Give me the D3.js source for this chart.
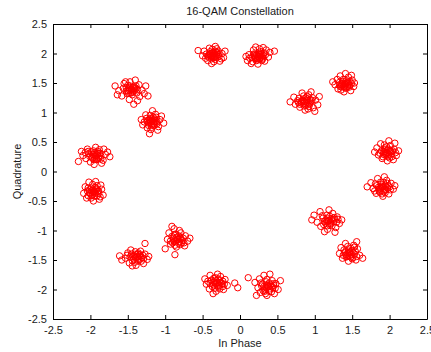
<!DOCTYPE html>
<html>
    <head>
        <meta charset="utf-8">
        <title>16-QAM Constellation</title>
        <script src="https://d3js.org/d3.v7.min.js"></script>
        <style>
            body { margin: 0; background: #fff; }
            text { font-family: "Liberation Sans", Arial, sans-serif; }
        </style>
    </head>
    <body>
        <script>
            // tick values for both axes
            let xTicks = [-2.5, -2, -1.5, -1, -0.5, 0, 0.5, 1, 1.5, 2, 2.5]
            let yTicks = [-2.5, -2, -1.5, -1, -0.5, 0, 0.5, 1, 1.5, 2, 2.5]

            // received symbols [in phase, quadrature]
            let symbols = [
                // top left
                [-0.36,1.97],[-0.30,2.01],[-0.42,1.94],[-0.33,1.90],[-0.28,1.95],[-0.40,2.03],[-0.45,1.99],[-0.37,2.07],[-0.31,2.08],[-0.24,2.00],[-0.22,1.93],[-0.35,1.86],[-0.43,1.88],[-0.48,2.04],[-0.56,2.05],[-0.50,1.96],[-0.27,1.87],[-0.39,1.99],[-0.34,1.94],[-0.29,2.04],[-0.41,2.09],[-0.20,2.04],[-0.38,1.83],[-0.46,1.92],[-0.33,2.12],[-0.25,1.91],[-0.36,2.02],[-0.32,1.97],
                [-0.37,1.96],[-0.34,2.00],[-0.39,1.95],[-0.32,1.93],[-0.35,1.99],[-0.38,1.91],[-0.31,2.01],[-0.41,1.97],[-0.36,1.93],[-0.33,2.04],[-0.40,2.00],[-0.29,1.98],[-0.37,2.01],[-0.43,1.96],
                // top right
                [0.25,1.95],[0.20,1.99],[0.30,1.92],[0.22,1.88],[0.28,2.03],[0.16,1.93],[0.34,1.98],[0.26,2.08],[0.18,2.06],[0.12,1.98],[0.10,1.88],[0.15,1.83],[0.24,1.82],[0.33,1.87],[0.38,1.94],[0.46,2.04],[0.40,2.02],[0.31,2.10],[0.21,2.11],[0.27,1.97],[0.23,1.91],[0.19,1.96],[0.29,1.88],[0.13,1.92],[0.35,2.06],[0.08,1.95],[0.26,2.00],[0.17,1.86],
                [0.24,1.94],[0.27,1.92],[0.22,1.97],[0.29,1.95],[0.25,1.99],[0.20,1.92],[0.31,1.96],[0.23,1.89],[0.28,1.99],[0.18,1.99],[0.26,1.91],[0.32,2.01],[0.21,1.94],[0.30,1.90],
                // outer upper left
                [-1.46,1.39],[-1.41,1.43],[-1.52,1.36],[-1.38,1.33],[-1.50,1.46],[-1.44,1.30],[-1.56,1.41],[-1.35,1.47],[-1.47,1.52],[-1.40,1.55],[-1.62,1.37],[-1.67,1.45],[-1.64,1.30],[-1.58,1.28],[-1.31,1.38],[-1.28,1.32],[-1.23,1.28],[-1.26,1.45],[-1.48,1.22],[-1.37,1.20],[-1.42,1.14],[-1.53,1.52],[-1.45,1.40],[-1.49,1.33],[-1.43,1.36],[-1.34,1.27],[-1.55,1.49],[-1.39,1.41],
                [-1.45,1.38],[-1.48,1.41],[-1.43,1.43],[-1.50,1.37],[-1.41,1.37],[-1.47,1.45],[-1.44,1.34],[-1.52,1.42],[-1.39,1.45],[-1.46,1.33],[-1.42,1.40],[-1.49,1.39],[-1.37,1.39],[-1.51,1.32],
                // inner upper left
                [-1.18,0.85],[-1.14,0.89],[-1.22,0.82],[-1.16,0.78],[-1.25,0.90],[-1.11,0.81],[-1.20,0.95],[-1.13,0.97],[-1.28,0.84],[-1.07,0.88],[-1.09,0.76],[-1.24,0.74],[-1.19,0.71],[-1.30,0.79],[-1.05,0.94],[-1.17,1.03],[-1.26,0.96],[-1.10,0.70],[-1.21,0.64],[-1.15,0.84],[-1.23,0.87],[-1.12,0.92],[-1.18,0.79],[-1.02,0.82],[-1.32,0.88],
                [-1.17,0.86],[-1.20,0.83],[-1.15,0.81],[-1.21,0.88],[-1.13,0.86],[-1.19,0.90],[-1.16,0.92],[-1.22,0.78],[-1.14,0.79],[-1.24,0.84],[-1.11,0.84],[-1.18,0.75],[-1.20,0.86],[-1.16,0.88],
                // inner upper right
                [0.86,1.19],[0.90,1.23],[0.82,1.16],[0.88,1.12],[0.94,1.18],[0.79,1.24],[0.85,1.28],[0.92,1.30],[0.97,1.25],[1.01,1.21],[1.04,1.13],[0.98,1.08],[0.87,1.04],[0.80,1.09],[0.74,1.14],[0.67,1.18],[0.72,1.26],[0.83,1.33],[0.95,1.35],[1.06,1.27],[0.89,1.17],[0.84,1.21],[0.93,1.14],[0.77,1.20],[1.00,1.02],[0.91,1.06],
                [0.87,1.18],[0.84,1.20],[0.89,1.21],[0.85,1.15],[0.91,1.16],[0.82,1.19],[0.88,1.25],[0.94,1.22],[0.80,1.14],[0.86,1.11],[0.92,1.10],[0.78,1.17],[0.90,1.27],[0.96,1.20],
                // outer upper right
                [1.40,1.48],[1.44,1.52],[1.36,1.45],[1.42,1.41],[1.47,1.46],[1.33,1.51],[1.38,1.56],[1.45,1.60],[1.50,1.55],[1.52,1.44],[1.48,1.37],[1.39,1.35],[1.31,1.40],[1.27,1.47],[1.24,1.52],[1.34,1.62],[1.41,1.66],[1.49,1.63],[1.42,1.49],[1.37,1.50],[1.46,1.43],[1.35,1.38],[1.53,1.50],[1.30,1.56],
                [1.41,1.47],[1.38,1.49],[1.43,1.50],[1.39,1.44],[1.45,1.48],[1.36,1.48],[1.42,1.54],[1.47,1.52],[1.34,1.44],[1.40,1.42],[1.44,1.44],[1.37,1.53],[1.49,1.49],[1.33,1.47],
                // left upper
                [-1.94,0.27],[-1.90,0.31],[-1.98,0.24],[-1.92,0.20],[-2.02,0.30],[-1.86,0.26],[-1.96,0.35],[-1.88,0.37],[-2.06,0.22],[-1.83,0.19],[-1.80,0.29],[-1.77,0.33],[-1.74,0.25],[-2.00,0.16],[-2.10,0.27],[-2.16,0.17],[-2.12,0.34],[-1.93,0.41],[-2.04,0.38],[-1.85,0.14],[-1.95,0.12],[-1.91,0.28],[-1.97,0.29],[-1.89,0.22],[-2.07,0.32],[-1.82,0.38],
                [-1.93,0.26],[-1.96,0.28],[-1.91,0.30],[-1.97,0.22],[-1.89,0.25],[-1.99,0.33],[-1.94,0.32],[-1.87,0.31],[-2.01,0.26],[-1.92,0.23],[-1.95,0.20],[-1.86,0.21],[-2.03,0.34],[-1.90,0.34],
                // left lower
                [-1.96,-0.35],[-1.92,-0.31],[-2.00,-0.38],[-1.94,-0.42],[-1.99,-0.28],[-1.89,-0.37],[-2.04,-0.33],[-1.97,-0.22],[-1.91,-0.24],[-1.85,-0.30],[-1.83,-0.40],[-1.88,-0.47],[-1.96,-0.50],[-2.05,-0.45],[-2.09,-0.37],[-2.07,-0.26],[-2.02,-0.18],[-1.93,-0.17],[-1.95,-0.36],[-1.98,-0.41],[-1.90,-0.33],[-2.01,-0.31],[-1.86,-0.23],
                [-1.95,-0.34],[-1.93,-0.37],[-1.98,-0.32],[-1.97,-0.39],[-1.92,-0.29],[-2.01,-0.36],[-1.94,-0.27],[-1.89,-0.33],[-2.03,-0.41],[-1.91,-0.41],[-1.99,-0.45],[-1.87,-0.43],[-2.03,-0.28],[-1.96,-0.31],
                // right upper
                [1.96,0.32],[2.00,0.36],[1.92,0.29],[1.98,0.25],[2.03,0.30],[1.89,0.35],[1.94,0.40],[2.01,0.44],[2.06,0.38],[2.09,0.27],[2.05,0.20],[1.97,0.18],[1.90,0.22],[1.85,0.28],[1.80,0.33],[1.83,0.40],[1.88,0.47],[1.99,0.52],[2.07,0.48],[2.12,0.35],[1.95,0.30],[2.02,0.34],[1.93,0.37],[2.00,0.23],
                [1.97,0.31],[1.94,0.33],[1.99,0.29],[1.95,0.27],[2.01,0.33],[1.92,0.34],[1.98,0.38],[2.04,0.35],[1.91,0.25],[1.96,0.42],[2.03,0.25],[1.87,0.31],[2.08,0.32],[1.93,0.45],
                // right lower
                [1.90,-0.27],[1.94,-0.23],[1.86,-0.30],[1.92,-0.34],[1.97,-0.28],[1.83,-0.24],[1.88,-0.18],[1.96,-0.15],[2.02,-0.20],[2.05,-0.30],[1.99,-0.38],[1.91,-0.42],[1.82,-0.37],[1.78,-0.29],[1.70,-0.26],[1.75,-0.19],[1.84,-0.12],[1.93,-0.09],[2.07,-0.24],[1.89,-0.25],[1.95,-0.31],[1.87,-0.35],[2.00,-0.26],[1.80,-0.33],
                [1.91,-0.26],[1.88,-0.28],[1.93,-0.30],[1.89,-0.22],[1.95,-0.26],[1.85,-0.27],[1.92,-0.19],[1.98,-0.24],[1.86,-0.33],[1.94,-0.36],[2.01,-0.31],[1.81,-0.21],[1.97,-0.20],[1.90,-0.38],
                // inner lower right
                [1.18,-0.84],[1.22,-0.80],[1.14,-0.87],[1.20,-0.91],[1.25,-0.85],[1.11,-0.79],[1.16,-0.74],[1.24,-0.71],[1.30,-0.77],[1.33,-0.88],[1.28,-0.95],[1.17,-0.98],[1.08,-0.93],[1.03,-0.86],[0.96,-0.82],[0.99,-0.74],[1.07,-0.68],[1.19,-0.65],[1.27,-1.03],[1.13,-1.02],[1.36,-0.82],[1.21,-0.86],[1.15,-0.82],[1.26,-0.78],
                [1.19,-0.83],[1.16,-0.85],[1.21,-0.88],[1.17,-0.79],[1.23,-0.82],[1.13,-0.84],[1.20,-0.76],[1.26,-0.81],[1.12,-0.90],[1.23,-0.92],[1.29,-0.86],[1.10,-0.75],[1.17,-0.92],[1.31,-0.81],
                // outer lower right
                [1.46,-1.38],[1.50,-1.34],[1.42,-1.41],[1.48,-1.45],[1.53,-1.40],[1.39,-1.33],[1.44,-1.27],[1.52,-1.25],[1.57,-1.31],[1.60,-1.42],[1.55,-1.50],[1.45,-1.52],[1.37,-1.47],[1.33,-1.39],[1.35,-1.29],[1.41,-1.22],[1.56,-1.19],[1.64,-1.47],[1.47,-1.36],[1.43,-1.44],[1.51,-1.46],[1.40,-1.38],
                [1.47,-1.37],[1.44,-1.39],[1.49,-1.41],[1.45,-1.33],[1.51,-1.37],[1.41,-1.36],[1.48,-1.30],[1.54,-1.35],[1.42,-1.45],[1.50,-1.48],[1.56,-1.44],[1.38,-1.42],[1.53,-1.28],[1.46,-1.43],
                // outer lower left
                [-1.38,-1.45],[-1.34,-1.41],[-1.42,-1.48],[-1.36,-1.52],[-1.31,-1.46],[-1.45,-1.40],[-1.40,-1.36],[-1.33,-1.35],[-1.27,-1.40],[-1.24,-1.49],[-1.29,-1.56],[-1.39,-1.59],[-1.48,-1.55],[-1.53,-1.47],[-1.58,-1.50],[-1.61,-1.43],[-1.50,-1.38],[-1.46,-1.33],[-1.27,-1.22],[-1.35,-1.47],[-1.41,-1.43],[-1.37,-1.40],[-1.22,-1.44],[-1.44,-1.60],
                [-1.37,-1.44],[-1.40,-1.46],[-1.35,-1.49],[-1.39,-1.41],[-1.33,-1.43],[-1.43,-1.44],[-1.36,-1.38],[-1.30,-1.42],[-1.44,-1.51],[-1.32,-1.52],[-1.41,-1.54],[-1.47,-1.45],[-1.29,-1.48],[-1.51,-1.42],
                // inner lower left
                [-0.84,-1.16],[-0.80,-1.12],[-0.88,-1.19],[-0.82,-1.22],[-0.77,-1.17],[-0.91,-1.10],[-0.86,-1.06],[-0.79,-1.04],[-0.73,-1.09],[-0.70,-1.18],[-0.74,-1.26],[-0.85,-1.28],[-0.93,-1.23],[-0.97,-1.15],[-0.95,-1.04],[-0.91,-0.93],[-0.88,-0.97],[-1.00,-1.31],[-0.87,-1.41],[-0.67,-1.13],[-0.83,-1.14],[-0.89,-1.13],[-0.78,-1.21],[-0.81,-1.00],
                [-0.83,-1.15],[-0.86,-1.17],[-0.81,-1.19],[-0.85,-1.12],[-0.79,-1.14],[-0.89,-1.16],[-0.82,-1.09],[-0.76,-1.13],[-0.90,-1.21],[-0.80,-1.24],[-0.87,-1.25],[-0.93,-1.18],[-0.75,-1.21],[-0.88,-1.08],
                // bottom left
                [-0.31,-1.89],[-0.27,-1.85],[-0.35,-1.92],[-0.29,-1.96],[-0.24,-1.90],[-0.38,-1.84],[-0.33,-1.80],[-0.26,-1.78],[-0.20,-1.83],[-0.17,-1.93],[-0.22,-2.00],[-0.32,-2.03],[-0.41,-1.99],[-0.45,-1.91],[-0.47,-1.82],[-0.40,-1.76],[-0.30,-1.74],[-0.07,-1.89],[-0.03,-1.97],[-0.36,-2.07],[-0.28,-1.91],[-0.34,-1.87],[-0.23,-1.95],[-0.43,-1.86],
                [-0.30,-1.88],[-0.33,-1.90],[-0.28,-1.93],[-0.32,-1.85],[-0.26,-1.88],[-0.36,-1.88],[-0.29,-1.82],[-0.23,-1.86],[-0.37,-1.95],[-0.27,-1.99],[-0.34,-1.98],[-0.40,-1.90],[-0.21,-1.91],[-0.35,-1.81],
                // bottom right
                [0.37,-1.96],[0.41,-1.92],[0.33,-1.99],[0.39,-2.03],[0.44,-1.97],[0.30,-1.91],[0.35,-1.87],[0.43,-1.85],[0.48,-1.90],[0.51,-2.00],[0.46,-2.07],[0.36,-2.10],[0.27,-2.05],[0.24,-1.97],[0.20,-1.88],[0.26,-1.82],[0.32,-1.76],[0.40,-1.74],[0.11,-1.80],[0.54,-1.85],[0.22,-2.10],[0.38,-1.95],[0.31,-2.02],[0.45,-1.93],[0.29,-1.94],
                [0.38,-1.95],[0.35,-1.97],[0.40,-1.99],[0.36,-1.92],[0.42,-1.95],[0.32,-1.95],[0.39,-1.89],[0.45,-1.90],[0.33,-2.03],[0.42,-2.04],[0.47,-1.98],[0.28,-1.89],[0.36,-1.83],[0.34,-2.07]
            ]

            let w = 431
            let h = 352
            let plotLeft = 53, plotRight = 427, plotTop = 24, plotBottom = 319
            let tickLen = 4

            let svg = d3.select("body")
            .append("svg")
            .attr("width", w)
            .attr("height", h)
            .style("background-color", "white")

            let xScale = d3.scaleLinear()
            .domain([-2.5, 2.5])
            .range([plotLeft, plotRight])

            let yScale = d3.scaleLinear()
            .domain([-2.5, 2.5])
            .range([plotBottom, plotTop])

            let fmt = d => String(d)

            // matlab style: ticks pointing inside on all four sides
            svg.append("g")
            .attr("transform", `translate(0, ${plotBottom})`)
            .call(d3.axisBottom(xScale).tickValues(xTicks).tickFormat(fmt).tickSizeInner(-tickLen).tickSizeOuter(0).tickPadding(7))

            svg.append("g")
            .attr("transform", `translate(0, ${plotTop})`)
            .call(d3.axisTop(xScale).tickValues(xTicks).tickFormat("").tickSizeInner(-tickLen).tickSizeOuter(0))

            svg.append("g")
            .attr("transform", `translate(${plotLeft}, 0)`)
            .call(d3.axisLeft(yScale).tickValues(yTicks).tickFormat(fmt).tickSizeInner(-tickLen).tickSizeOuter(0).tickPadding(6))

            svg.append("g")
            .attr("transform", `translate(${plotRight}, 0)`)
            .call(d3.axisRight(yScale).tickValues(yTicks).tickFormat("").tickSizeInner(-tickLen).tickSizeOuter(0))

            svg.selectAll(".domain").attr("stroke", "#000")
            svg.selectAll(".tick line").attr("stroke", "#000")
            svg.selectAll(".tick text")
            .attr("fill", "#1a1a1a")
            .style("font-size", "11px")
            .style("font-family", "'Liberation Sans', Arial, sans-serif")

            svg.append("g")
            .selectAll("circle")
            .data(symbols)
            .enter()
            .append("circle")
            .attr("cx", d => xScale(d[0]))
            .attr("cy", d => yScale(d[1]))
            .attr("r", 3.2)
            .attr("fill", "none")
            .attr("stroke", "#ff0000")
            .attr("stroke-width", 1)

            svg.append("text")
            .attr("x", (plotLeft + plotRight) / 2)
            .attr("y", 15)
            .attr("text-anchor", "middle")
            .style("font-size", "11px")
            .attr("fill", "#1a1a1a")
            .text("16-QAM Constellation")

            svg.append("text")
            .attr("x", (plotLeft + plotRight) / 2)
            .attr("y", 347)
            .attr("text-anchor", "middle")
            .style("font-size", "11px")
            .attr("fill", "#1a1a1a")
            .text("In Phase")

            svg.append("text")
            .attr("transform", `translate(21, ${(plotTop + plotBottom) / 2}) rotate(-90)`)
            .attr("text-anchor", "middle")
            .style("font-size", "11px")
            .attr("fill", "#1a1a1a")
            .text("Quadrature")
        </script>
    </body>
</html>
